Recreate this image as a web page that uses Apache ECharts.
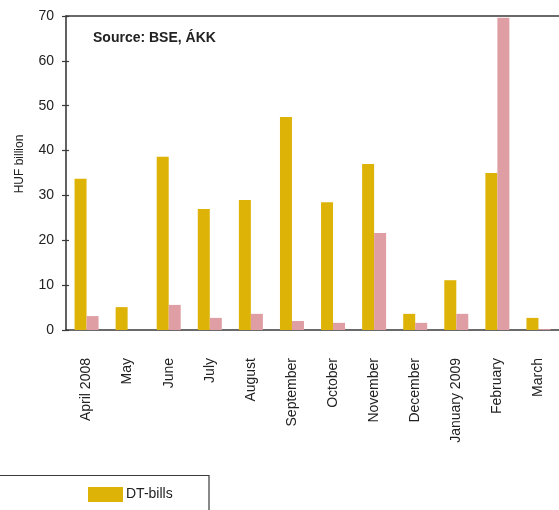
<!DOCTYPE html>
<html>
<head>
<meta charset="utf-8">
<script src="https://cdn.jsdelivr.net/npm/echarts@6/dist/echarts.min.js"></script>
<style>
  html, body { margin: 0; padding: 0; background: #fff; }
  #chart { width: 559px; height: 510px; }
</style>
</head>
<body>
<div id="chart"></div>
<script>
// Monthly issuance, HUF billion
const months = ['April 2008', 'May', 'June', 'July', 'August', 'September',
  'October', 'November', 'December', 'January 2009', 'February', 'March'];
const dtBills = [33.7, 5.1, 38.6, 27.0, 29.0, 47.5, 28.5, 37.0, 3.6, 11.1, 35.0, 2.7];
const otherBills = [3.1, 0, 5.6, 2.7, 3.6, 2.0, 1.6, 21.6, 1.6, 3.6, 69.6, 0.2];
const yTicks = [0, 10, 20, 30, 40, 50, 60, 70];

const FONT = '"Liberation Sans", Arial, sans-serif';
const AXIS = '#3a3a3a';

const chart = echarts.init(document.getElementById('chart'), null, { renderer: 'canvas' });
chart.setOption({
  animation: false,
  textStyle: { fontFamily: FONT },
  grid: { left: 66, right: 0, top: 16, bottom: 180, containLabel: false },
  legend: {
    data: ['DT-bills'],
    left: 83, top: 482, icon: 'rect',
    itemWidth: 35, itemHeight: 15, itemGap: 4,
    textStyle: { fontFamily: FONT, fontSize: 14, color: '#222', padding: [0, 0, 0, -2] }
  },
  graphic: [
    { type: 'rect', shape: { x: -2, y: 475.5, width: 211, height: 60 },
      style: { fill: 'none', stroke: AXIS, lineWidth: 1.2 } },
    { type: 'text', left: 93, top: 31,
      style: { text: 'Source: BSE, ÁKK', font: 'bold 14px ' + FONT, fill: '#222' } }
  ],
  xAxis: [
    {
      type: 'category', data: months, position: 'bottom',
      axisLine: { onZero: false, lineStyle: { color: AXIS, width: 1.6 } },
      axisTick: { show: false },
      axisLabel: { rotate: 90, margin: 28, fontSize: 14, color: '#222', interval: 0, fontFamily: FONT }
    },
    {
      // top frame line
      type: 'category', data: months, position: 'top',
      axisLine: { onZero: false, lineStyle: { color: AXIS, width: 1.6 } },
      axisTick: { show: false }, axisLabel: { show: false }
    }
  ],
  yAxis: [
    {
      type: 'value', min: yTicks[0], max: yTicks[yTicks.length - 1], interval: 10,
      name: 'HUF billion', nameLocation: 'middle', nameGap: 40, nameRotate: 90,
      nameTextStyle: { fontSize: 12, color: '#222', fontFamily: FONT, padding: [0, 0, 0, 18] },
      axisLine: { show: true, onZero: false, lineStyle: { color: AXIS, width: 1.6 } },
      axisTick: { show: true, length: 4, lineStyle: { color: AXIS, width: 1.2 } },
      axisLabel: { fontSize: 14, color: '#222', margin: 12, fontFamily: FONT },
      splitLine: { show: false }
    },
    {
      // inner half of the crossing tick marks
      type: 'value', position: 'left', offset: 0,
      min: yTicks[0], max: yTicks[yTicks.length - 1], interval: 10,
      axisLine: { show: false, onZero: false },
      axisTick: { show: true, inside: true, length: 3, lineStyle: { color: AXIS, width: 1.2 } },
      axisLabel: { show: false },
      splitLine: { show: false }
    }
  ],
  series: [
    {
      name: 'DT-bills', type: 'bar', data: dtBills, barWidth: 12, barGap: '0%',
      itemStyle: { color: '#DDB307' }
    },
    {
      name: 'Other bills', type: 'bar', data: otherBills, barWidth: 12,
      itemStyle: { color: '#DF9EA3' }
    }
  ]
});
</script>
</body>
</html>
